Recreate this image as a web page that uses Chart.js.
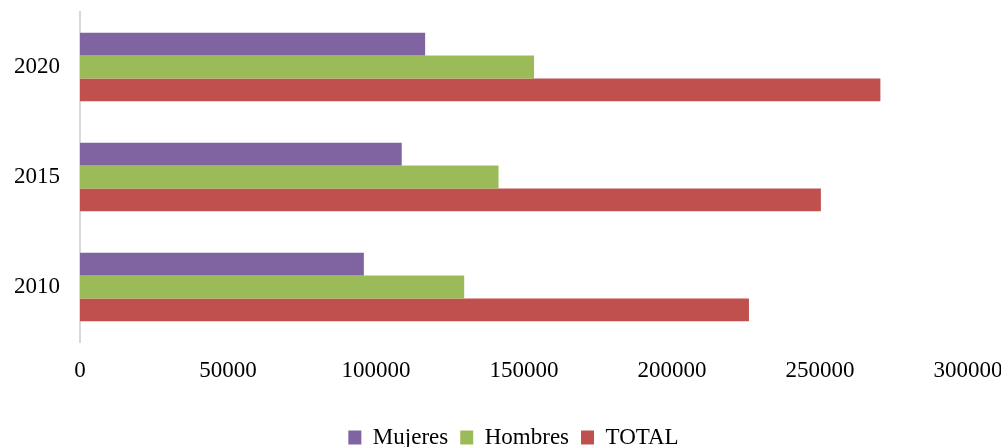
<!DOCTYPE html>
<html>
<head>
<meta charset="utf-8">
<script src="https://cdn.jsdelivr.net/npm/chart.js@4"></script>
<style>
  html, body { margin: 0; padding: 0; background: #fff; }
  #wrap { width: 1001px; height: 447px; position: relative; }
</style>
</head>
<body>
<div id="wrap"><canvas id="chart"></canvas></div>
<script>
// datos
const years = ['2020', '2015', '2010'];
const mujeres = [116600, 108700, 95900];
const hombres = [153400, 141400, 129800];
const total = [270400, 250300, 226000];
const xTicks = [0, 50000, 100000, 150000, 200000, 250000, 300000];

const serif = "'Liberation Serif', 'Times New Roman', serif";

// la leyenda del original está algo desplazada a la derecha
const shiftLegend = {
  id: 'shiftLegend',
  afterLayout(chart) {
    const lg = chart.legend;
    if (!lg) return;
    lg.left += 26;
    lg.width -= 26;
  },
};

new Chart(document.getElementById('chart'), {
  type: 'bar',
  data: {
    labels: years,
    datasets: [
      { label: 'Mujeres', data: mujeres, backgroundColor: '#8064A2' },
      { label: 'Hombres', data: hombres, backgroundColor: '#9BBB59' },
      { label: 'TOTAL',   data: total,   backgroundColor: '#C0504D' },
    ],
  },
  plugins: [shiftLegend],
  options: {
    indexAxis: 'y',
    responsive: true,
    maintainAspectRatio: false,
    animation: false,
    categoryPercentage: 0.622,
    barPercentage: 1.0,
    layout: { padding: { top: 12, right: 0, left: 0, bottom: -12 } },
    plugins: {
      tooltip: { enabled: false },
      legend: {
        position: 'bottom',
        labels: {
          color: '#000',
          font: { family: serif, size: 23 },
          boxWidth: 13,
          boxHeight: 14,
          padding: 12,
        },
      },
    },
    scales: {
      x: {
        min: 0,
        max: 300000,
        afterBuildTicks: axis => { axis.ticks = xTicks.map(v => ({ value: v })); },
        grid: { display: false, drawTicks: false },
        border: { display: false },
        ticks: {
          color: '#000',
          font: { family: serif, size: 23 },
          padding: 15,
          maxRotation: 0,
          callback: v => String(v),
        },
        afterFit: axis => {
          axis.height = 72;
          axis.paddingLeft = 0;
          axis.paddingRight = 33;
        },
      },
      y: {
        grid: { display: false, drawTicks: false },
        border: { display: true, color: '#d9d9d9', width: 2 },
        ticks: {
          color: '#000',
          font: { family: serif, size: 23 },
          padding: 20,
        },
        afterFit: axis => {
          axis.width = 80;
          axis.paddingTop = 0;
          axis.paddingBottom = 0;
        },
      },
    },
  },
});
</script>
</body>
</html>
